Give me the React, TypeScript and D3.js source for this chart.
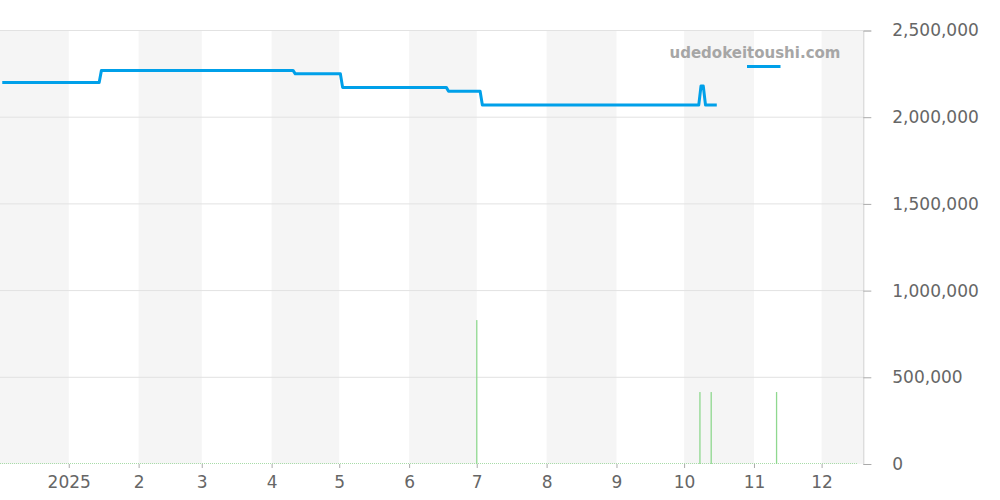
import React, { useEffect, useRef } from "react";
import * as d3 from "d3";

// price history (step changes), yen
const priceDates = [
  "2024-12-02", "2025-01-14", "2025-01-15", "2025-04-10", "2025-04-11",
  "2025-05-01", "2025-05-02", "2025-06-17", "2025-06-18", "2025-07-02",
  "2025-07-03", "2025-10-07", "2025-10-08", "2025-10-09", "2025-10-10",
  "2025-10-15"
];
const priceValues = [
  2200000, 2200000, 2270000, 2270000, 2250000,
  2250000, 2172000, 2172000, 2150000, 2150000,
  2070000, 2070000, 2180000, 2180000, 2070000,
  2070000
];

// volume bars
const barDates = ["2025-07-01", "2025-10-08", "2025-10-13", "2025-11-11"];
const barValues = [830000, 415000, 415000, 415000];

const yTicks = [0, 500000, 1000000, 1500000, 2000000, 2500000];
const legendLabel = "udedokeitoushi.com";

export default function App() {
  const ref = useRef<SVGSVGElement>(null);

  useEffect(() => {
    const w = 1000;
    const h = 500;
    const left = 0;
    const right = 863.3;
    const top = 30.5;
    const bottom = 464;
    const font = "DejaVu Sans, sans-serif";

    const svg = d3.select(ref.current);
    svg.selectAll("*").remove();
    svg.attr("width", w).attr("height", h);

    const parse = d3.timeParse("%Y-%m-%d");
    const xScale = d3
      .scaleTime()
      .domain([new Date(2024, 11, 1, 12), new Date(2025, 11, 19, 12)])
      .range([left, right]);
    const yScale = d3.scaleLinear().domain([0, 2500000]).range([bottom, top]);

    // alternating month bands
    const months = d3.timeMonth.range(new Date(2024, 11, 1), new Date(2026, 0, 1));
    svg
      .append("g")
      .selectAll("rect")
      .data(months.filter((m, i) => i % 2 === 0))
      .enter()
      .append("rect")
      .attr("x", d => Math.max(left, xScale(d)))
      .attr("width", d => Math.min(right, xScale(d3.timeMonth.offset(d, 1))) - Math.max(left, xScale(d)))
      .attr("y", top)
      .attr("height", bottom - top)
      .attr("fill", "#f5f5f5");

    // grid
    svg
      .append("g")
      .selectAll("line")
      .data(yTicks.slice(1))
      .enter()
      .append("line")
      .attr("x1", left)
      .attr("x2", right)
      .attr("y1", d => yScale(d))
      .attr("y2", d => yScale(d))
      .attr("stroke", "#e2e2e2");

    // baseline of tiny volume bars
    svg
      .append("line")
      .attr("x1", left)
      .attr("x2", 857)
      .attr("y1", bottom - 0.5)
      .attr("y2", bottom - 0.5)
      .attr("stroke", "#a8dca8")
      .attr("stroke-dasharray", "1,1");

    // volume bars
    svg
      .append("g")
      .selectAll("rect")
      .data(barDates.map((d, i) => ({ date: parse(d) as Date, value: barValues[i] })))
      .enter()
      .append("rect")
      .attr("x", d => xScale(d.date) - 0.6)
      .attr("width", 1.3)
      .attr("y", d => yScale(d.value))
      .attr("height", d => bottom - yScale(d.value))
      .attr("fill", "#8fd88f");

    // price line
    const pts = priceDates.map((d, i) => ({ date: parse(d) as Date, value: priceValues[i] }));
    const line = d3
      .line<{ date: Date; value: number }>()
      .x(d => xScale(d3.timeHour.offset(d.date, 12)))
      .y(d => yScale(d.value));
    svg
      .append("path")
      .datum(pts)
      .attr("d", line)
      .attr("fill", "none")
      .attr("stroke", "#00a0e9")
      .attr("stroke-width", 3)
      .attr("stroke-linejoin", "round");

    // right axis
    const yAxis = d3
      .axisRight(yScale)
      .tickValues(yTicks)
      .tickSize(8)
      .tickPadding(21)
      .tickFormat(d => d3.format(",")(d as number));
    const gy = svg
      .append("g")
      .attr("transform", "translate(" + right + ",0)")
      .call(yAxis);
    gy.select(".domain").attr("stroke", "#d0d0d0");
    gy.selectAll(".tick line").attr("stroke", "#aaa");
    gy.selectAll("text").attr("fill", "#666").style("font-size", "17px").style("font-family", font);

    // bottom axis
    const xAxis = d3
      .axisBottom(xScale)
      .tickValues(d3.timeMonth.range(new Date(2025, 0, 1), new Date(2025, 11, 2)))
      .tickSize(4)
      .tickPadding(8)
      .tickFormat(d => {
        const dt = d as Date;
        return dt.getMonth() === 0 ? String(dt.getFullYear()) : String(dt.getMonth() + 1);
      });
    const gx = svg
      .append("g")
      .attr("transform", "translate(0," + bottom + ")")
      .call(xAxis);
    gx.select(".domain").remove();
    gx.selectAll(".tick line").attr("stroke", "#aaa");
    gx.selectAll("text").attr("fill", "#666").style("font-size", "17px").style("font-family", font);

    // legend
    svg
      .append("text")
      .attr("x", 755)
      .attr("y", 58)
      .attr("text-anchor", "middle")
      .attr("fill", "#a6a6a6")
      .style("font-family", font)
      .style("font-weight", "bold")
      .style("font-size", "15px")
      .text(legendLabel);
    svg
      .append("line")
      .attr("x1", 747)
      .attr("x2", 780.5)
      .attr("y1", 66.5)
      .attr("y2", 66.5)
      .attr("stroke", "#00a0e9")
      .attr("stroke-width", 3);
  }, []);

  return <svg ref={ref} style={{ position: "absolute", left: 0, top: 0 }} />;
}
